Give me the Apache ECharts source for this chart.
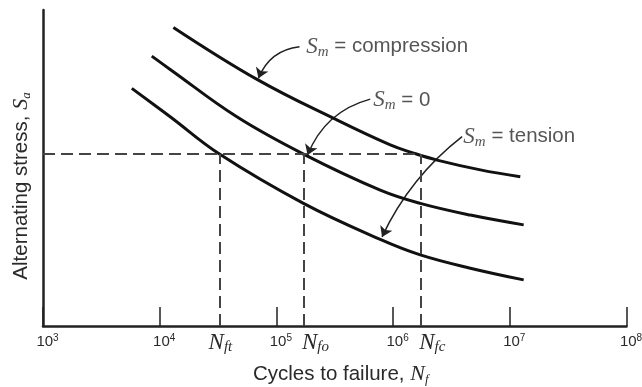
<!DOCTYPE html>
<html>
<head>
<meta charset="utf-8">
<script src="https://cdn.jsdelivr.net/npm/echarts@6/dist/echarts.min.js"></script>
<style>
  html, body { margin: 0; padding: 0; background: #fff; }
  #chart { width: 642px; height: 387px; }
</style>
</head>
<body>
<div id="chart"></div>
<script>
// S-N curves for three mean-stress conditions (alternating stress vs. cycles to failure)
const compN = [13100, 70100, 330000, 946000, 1500000, 2380000, 5600000, 12300000];
const compS = [94.5, 77.8, 65.2, 57.3, 54.7, 52.5, 49.4, 47.2];

const zeroN = [8550, 12300, 45800, 170600, 776000, 1710000, 4590000, 13150000];
const zeroS = [85.4, 81.2, 66.2, 54.4, 43.0, 38.8, 35.1, 32.0];

const tensN = [5770, 12300, 32500, 170600, 776000, 1710000, 4590000, 13150000];
const tensS = [75.2, 66.2, 54.4, 38.8, 27.4, 22.5, 18.3, 14.6];

// reference alternating stress level and the lives it gives on each curve
const refStress = 54.4;
const lifeNames = ['ft', 'fo', 'fc'];
const lifeValues = [32500, 170600, 1710000];

// decade tick values on the cycles axis
const decadeTicks = [1e3, 1e4, 1e5, 1e6, 1e7, 1e8];

// callout text anchors [N, S] and arrow paths [[N, S] start, [N, S] tip]
const calloutTexts = ['compression', '0', 'tension'];
const calloutAnchors = [[180000, 88.4], [676000, 71.5], [4000000, 59.9]];
const calloutArrows = [
  [[157800, 88.4], [70200, 78.4]],
  [[637000, 71.8], [185000, 54.1]],
  [[3900000, 59.9], [804000, 28.2]]
];
const calloutBend = [-0.3, -0.25, -0.12];

const zip = (xs, ys) => xs.map((x, i) => [x, ys[i]]);

const SANS = '"Liberation Sans", Arial, Helvetica, sans-serif';
const SERIF = '"Liberation Serif", "Times New Roman", serif';
const TEXT = '#2a2a2a';

// horizontal nudge of the N labels under the dashed drop lines (px)
const lifeLabelShift = [1, 12, 12];

const curveStyle = {
  type: 'line',
  smooth: 0.4,
  showSymbol: false,
  symbol: 'none',
  silent: true,
  lineStyle: { color: '#111', width: 3 }
};

const calloutRich = {
  S: { fontFamily: SERIF, fontStyle: 'italic', fontSize: 23, color: TEXT },
  m: { fontFamily: SERIF, fontStyle: 'italic', fontSize: 15, color: TEXT, padding: [10, 0, 0, 0] },
  t: { fontFamily: SANS, fontSize: 20.5, color: TEXT }
};

const lifeRich = {
  N: { fontFamily: SERIF, fontStyle: 'italic', fontSize: 23, color: TEXT },
  s: { fontFamily: SERIF, fontStyle: 'italic', fontSize: 15, color: TEXT, padding: [10, 0, 0, 0] }
};

const dashed = { type: [12, 6], color: '#444', width: 2 };

const markLineData = [
  [{ coord: [decadeTicks[0], refStress] }, { coord: [lifeValues[2], refStress] }]
].concat(lifeValues.map((v, i) => {
  const lab = {
    show: true,
    position: 'start',
    distance: 4,
    offset: [lifeLabelShift[i], 0],
    formatter: '{N|N}{s|' + lifeNames[i] + '}',
    rich: lifeRich
  };
  return [{ coord: [v, 0], label: lab }, { coord: [v, refStress], label: lab }];
}));

const chart = echarts.init(document.getElementById('chart'), null, { renderer: 'canvas' });

chart.setOption({
  animation: false,
  backgroundColor: '#fff',
  grid: { left: 43, right: 15.5, top: 10, bottom: 61, outerBoundsMode: 'none' },
  xAxis: {
    type: 'log',
    logBase: 10,
    min: decadeTicks[0],
    max: decadeTicks[decadeTicks.length - 1],
    name: '{t|Cycles to failure, }{N|N}{s|f}',
    nameLocation: 'middle',
    nameGap: 36,
    nameTextStyle: {
      padding: [0, 0, 0, 12],
      rich: {
        t: { fontFamily: SANS, fontSize: 20.5, color: TEXT },
        N: { fontFamily: SERIF, fontStyle: 'italic', fontSize: 22, color: TEXT },
        s: { fontFamily: SERIF, fontStyle: 'italic', fontSize: 13, color: TEXT, padding: [11, 0, 0, 0] }
      }
    },
    axisLine: { lineStyle: { color: '#222', width: 2.5 } },
    axisTick: { inside: true, length: 19, lineStyle: { color: '#222', width: 1.5 } },
    minorTick: { show: false },
    splitLine: { show: false },
    axisLabel: {
      margin: 7,
      padding: [0, 0, 0, 9],
      formatter: v => '{b|10}{p|' + Math.round(Math.log10(v)) + '}',
      rich: {
        b: { fontFamily: SANS, fontSize: 15, color: TEXT },
        p: { fontFamily: SANS, fontSize: 10, color: TEXT, padding: [0, 0, 8, 0] }
      }
    }
  },
  yAxis: {
    type: 'value',
    min: 0,
    max: 100,
    name: '{t|Alternating stress, }{S|S}{s|a}',
    nameLocation: 'middle',
    nameRotate: 90,
    nameGap: 10,
    nameTextStyle: {
      padding: [0, 36, 0, 0],
      rich: {
        t: { fontFamily: SANS, fontSize: 20.5, color: TEXT },
        S: { fontFamily: SERIF, fontStyle: 'italic', fontSize: 22, color: TEXT },
        s: { fontFamily: SERIF, fontStyle: 'italic', fontSize: 13, color: TEXT, padding: [11, 0, 0, 0] }
      }
    },
    axisLine: { show: true, lineStyle: { color: '#222', width: 2.5 } },
    axisTick: { show: false },
    axisLabel: { show: false },
    splitLine: { show: false }
  },
  series: [
    Object.assign({}, curveStyle, { name: 'compression', data: zip(compN, compS) }),
    Object.assign({}, curveStyle, { name: 'zero', data: zip(zeroN, zeroS) }),
    Object.assign({}, curveStyle, {
      name: 'tension',
      data: zip(tensN, tensS),
      markLine: {
        silent: true,
        symbol: ['none', 'none'],
        lineStyle: dashed,
        label: { show: false },
        data: markLineData
      }
    }),
    {
      type: 'lines',
      coordinateSystem: 'cartesian2d',
      silent: true,
      symbol: ['none', 'arrow'],
      symbolSize: 10,
      lineStyle: { color: '#222', width: 1.5, opacity: 1 },
      data: calloutArrows.map((c, i) => ({ coords: c, lineStyle: { curveness: calloutBend[i] } }))
    },
    {
      type: 'scatter',
      silent: true,
      symbolSize: 0,
      data: calloutAnchors.map((p, i) => ({ value: p, name: calloutTexts[i] })),
      label: {
        show: true,
        position: 'right',
        distance: 0,
        formatter: p => '{S|S}{m|m}{t| = ' + p.name + '}',
        rich: calloutRich
      }
    }
  ]
});
</script>
</body>
</html>
